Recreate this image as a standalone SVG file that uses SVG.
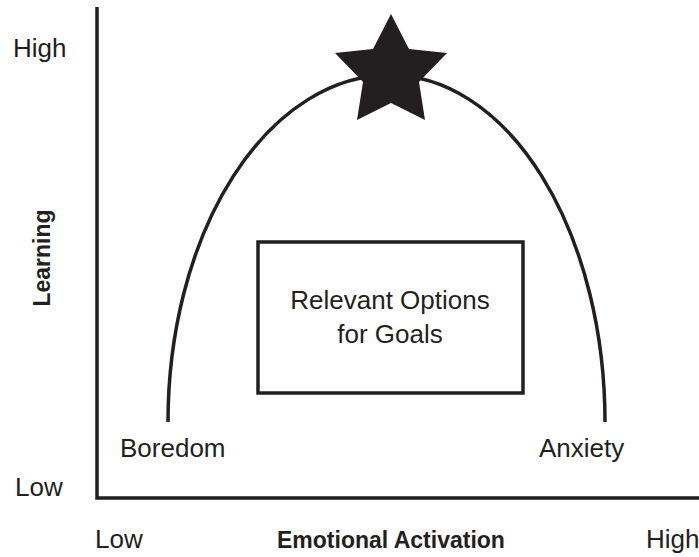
<svg xmlns="http://www.w3.org/2000/svg" width="699" height="557" viewBox="0 0 699 557">
<style>
.t{font-family:"Liberation Sans",Arial,sans-serif;font-size:26px;fill:#231f20}
.b{font-family:"Liberation Sans",Arial,sans-serif;font-size:23px;font-weight:bold;fill:#231f20}
.ln{fill:none;stroke:#231f20;stroke-width:3.5}
</style>
<rect width="699" height="557" fill="#ffffff"/>
<g id="axes">
<polyline class="ln" points="97,7 97,498 699,498" stroke-width="4"/>
<text class="t" x="13" y="57">High</text>
<text class="t" x="15" y="496">Low</text>
<text class="b" transform="translate(50,258) rotate(-90)" text-anchor="middle" font-size="24">Learning</text>
<text class="t" x="95" y="548">Low</text>
<text class="b" x="277" y="548">Emotional Activation</text>
<text class="t" x="646" y="548" font-size="25">High</text>
</g>
<g id="connectors">
<path class="ln" d="M168,422 A222,347 0 0 1 390,75 A215,347 0 0 1 605,422" stroke-width="3.2"/>
</g>
<g id="star">
<polygon points="391,14 409,49 447,53 419,82 425,120 391,103 357,120 363,82 335,53 373,49" fill="#231f20"/>
</g>
<g id="options">
<rect class="ln" x="258" y="242" width="265" height="151"/>
<text class="t" x="390" y="309" text-anchor="middle">Relevant Options</text>
<text class="t" x="390" y="343" text-anchor="middle">for Goals</text>
</g>
<g id="boredom">
<text class="t" x="120" y="457">Boredom</text>
</g>
<g id="anxiety">
<text class="t" x="539" y="457">Anxiety</text>
</g>
</svg>
